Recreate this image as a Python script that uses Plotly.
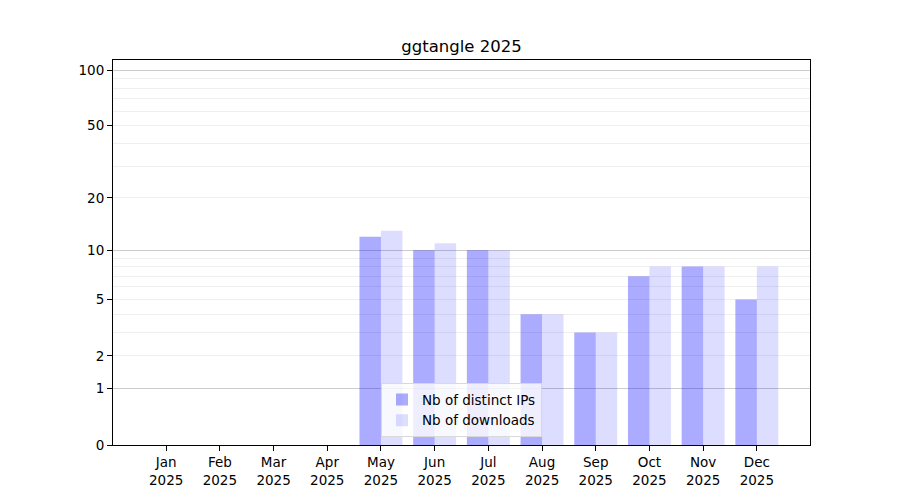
import plotly.graph_objects as go

months = ["Jan", "Feb", "Mar", "Apr", "May", "Jun",
          "Jul", "Aug", "Sep", "Oct", "Nov", "Dec"]
year = "2025"
distinct_ips = [0, 0, 0, 0, 12, 10, 10, 4, 3, 7, 8, 5]
downloads = [0, 0, 0, 0, 13, 11, 10, 4, 3, 8, 8, 8]

# y axis is log10(1 + n); labels stay in raw counts
tick_counts = [0, 1, 2, 5, 10, 20, 50, 100]
major_grid = [1, 10, 100]
minor_grid = [2, 3, 4, 5, 6, 7, 8, 9, 20, 30, 40, 50, 60, 70, 80, 90]

x_idx = list(range(len(months)))
x_labels = [f"{m}<br>{year}" for m in months]
font = "DejaVu Sans"

fig = go.Figure()
fig.add_trace(go.Bar(x=x_idx, y=distinct_ips, base=1, offset=-0.4, width=0.4,
                     marker=dict(color="rgba(0,0,255,0.33)", line_width=0),
                     name="Nb of distinct IPs"))
fig.add_trace(go.Bar(x=x_idx, y=downloads, base=1, offset=0, width=0.4,
                     marker=dict(color="rgba(0,0,255,0.135)", line_width=0),
                     name="Nb of downloads"))

y_range = [0, 2.059]

# page has an 8px body margin, so shift the plot area back by 8px
fig.update_layout(
    width=900, height=500,
    margin=dict(l=105, r=98, t=52, b=63),
    plot_bgcolor="white", paper_bgcolor="white",
    font=dict(family=font, size=13.5, color="black"),
    title=dict(text="ggtangle 2025", x=(105 + 802) / 2 / 900, xanchor="center",
               y=1 - 38 / 500, yanchor="middle",
               font=dict(family=font, size=16.5, color="black")),
    showlegend=True,
    legend=dict(x=0.5, xanchor="center", y=0.02, yanchor="bottom",
                bgcolor="rgba(255,255,255,0.8)", bordercolor="#d9d9d9",
                borderwidth=1, font=dict(size=13.5), itemwidth=30,
                tracegroupgap=0),
    xaxis=dict(range=[-0.99, 11.99], tickvals=x_idx, ticktext=x_labels,
               ticks="outside", ticklen=5, tickcolor="black",
               showline=True, linecolor="black", linewidth=1.2, mirror=True,
               showgrid=False, zeroline=False),
    yaxis=dict(type="log", range=y_range,
               tickvals=[1 + v for v in major_grid], showticklabels=False,
               ticks="", showgrid=True, gridcolor="#cccccc", gridwidth=1,
               minor=dict(tickvals=[1 + v for v in minor_grid], showgrid=True,
                          gridcolor="#efefef", gridwidth=1, ticks=""),
               showline=True, linecolor="black", linewidth=1.2, mirror=True,
               zeroline=False),
    yaxis2=dict(type="log", range=y_range, overlaying="y", side="left",
                tickvals=[1 + v for v in tick_counts],
                ticktext=[str(v) for v in tick_counts],
                ticks="outside", ticklen=5, tickcolor="black",
                showgrid=False, zeroline=False, showline=False),
)

# invisible trace so the label axis is drawn
fig.add_trace(go.Scatter(x=[None], y=[None], yaxis="y2", showlegend=False,
                         hoverinfo="skip"))

fig.write_html("out.html")
